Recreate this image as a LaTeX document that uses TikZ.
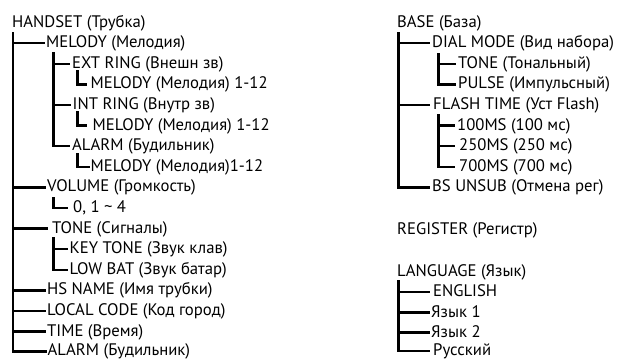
\documentclass[tikz,border=0pt]{standalone}
\usepackage{fontspec}
\setmainfont{PT Sans}
\tikzset{
  lbl/.style={anchor=base west, inner xsep=0pt, inner ysep=0pt, text height=9pt, text depth=0pt, font=\fontsize{16.7}{19}\selectfont},
  br/.style={line width=2.4pt, line join=miter, line cap=butt}
}
\begin{document}
\begin{tikzpicture}[x=1pt,y=-1pt]
\useasboundingbox (0,0) rectangle (619,360);
% ---------- left tree ----------
\node[lbl] (handset) at (12,27) {HANDSET (Трубка)};
\node[lbl] (melody) at (46,47.6) {MELODY (Мелодия)};
\node[lbl] (ext) at (72,68.2) {EXT RING (Внешн зв)};
\node[lbl] (extm) at (90.5,88.8) {MELODY (Мелодия) 1-12};
\node[lbl] (int) at (72.5,109.4) {INT RING (Внутр зв)};
\node[lbl] (intm) at (92.5,130) {MELODY (Мелодия) 1-12};
\node[lbl] (alarmA) at (72,150.6) {ALARM (Будильник)};
\node[lbl] (alarmm) at (90.5,171.2) {MELODY (Мелодия)1-12};
\node[lbl] (volume) at (47,191.8) {VOLUME (Громкость)};
\node[lbl] (vol) at (73,212.4) {0, 1 \textasciitilde{} 4};
\node[lbl] (tone) at (52,233) {TONE (Сигналы)};
\node[lbl] (key) at (69.5,253.6) {KEY TONE (Звук клав)};
\node[lbl] (low) at (69.5,274.2) {LOW BAT (Звук батар)};
\node[lbl] (hs) at (47,294.8) {HS NAME (Имя трубки)};
\node[lbl] (local) at (47,315.4) {LOCAL CODE (Код город)};
\node[lbl] (time) at (47,336) {TIME (Время)};
\node[lbl] (alarm) at (47.5,355.8) {ALARM (Будильник)};
\coordinate (v0) at (12.7,32);
\coordinate (v1) at (53.3,52);
\coordinate (v2) at (77.3,70);
\coordinate (v3) at (77.3,111);
\coordinate (v4) at (77.3,153);
\coordinate (v5) at (53.3,197);
\coordinate (v6) at (53.3,237);
\draw[br] (v0) |- ([xshift=-1pt]melody.west);
\draw[br] (v0) |- ([xshift=-1pt]volume.west);
\draw[br] (v0) |- ([xshift=-4pt]tone.west);
\draw[br] (v0) |- ([xshift=-1pt]hs.west);
\draw[br] (v0) |- ([xshift=-1pt]local.west);
\draw[br] (v0) |- ([xshift=-1pt]time.west);
\draw[br] (v0) |- ([xshift=-1pt]alarm.west);
\draw[br] (v1) |- ([xshift=-2pt]ext.west);
\draw[br] (v1) |- ([xshift=-2pt]int.west);
\draw[br] (v1) |- ([xshift=-2pt]alarmA.west);
\draw[br] (v2) |- ([xshift=-3.5pt]extm.west);
\draw[br] (v3) |- ([xshift=-6pt]intm.west);
\draw[br] (v4) |- ([xshift=-0.5pt]alarmm.west);
\draw[br] (v5) |- ([xshift=-5pt]vol.west);
\draw[br] (v6) |- ([xshift=-1.5pt]key.west);
\draw[br] (v6) |- ([xshift=-1.5pt]low.west);
% ---------- right tree ----------
\node[lbl] (base) at (397,27) {BASE (База)};
\node[lbl] (dial) at (432,47.6) {DIAL MODE (Вид набора)};
\node[lbl] (tonal) at (458,68.2) {TONE (Тональный)};
\node[lbl] (pulse) at (458,88.8) {PULSE (Импульсный)};
\node[lbl] (flash) at (433,109.4) {FLASH TIME (Уст Flash)};
\node[lbl] (ms1) at (457,130) {100MS (100 мс)};
\node[lbl] (ms2) at (459,150.6) {250MS (250 мс)};
\node[lbl] (ms3) at (459,171.2) {700MS (700 мс)};
\node[lbl] (unsub) at (432,191.8) {BS UNSUB (Отмена рег)};
\node[lbl] (reg) at (397,234) {REGISTER (Регистр)};
\node[lbl] (lang) at (397,276) {LANGUAGE (Язык)};
\node[lbl] (eng) at (433,296.5) {ENGLISH};
\node[lbl] (l1) at (431,317) {Язык 1};
\node[lbl] (l2) at (431,337) {Язык 2};
\node[lbl] (rus) at (433,355.5) {Русский};
\coordinate (r0) at (398.3,32);
\coordinate (r1) at (438.3,53);
\coordinate (r2) at (438.3,114);
\coordinate (r3) at (398.3,280);
\draw[br] (r0) |- ([xshift=-2pt]dial.west);
\draw[br] (r0) |- ([xshift=-3pt]flash.west);
\draw[br] (r0) |- ([xshift=-2pt]unsub.west);
\draw[br] (r1) |- ([xshift=-2pt]tonal.west);
\draw[br] (r1) |- ([xshift=-2pt]pulse.west);
\draw[br] (r2) |- ([xshift=-2pt]ms1.west);
\draw[br] (r2) |- ([xshift=-4pt]ms2.west);
\draw[br] (r2) |- ([xshift=-4pt]ms3.west);
\draw[br] (r3) |- ([xshift=-3pt]eng.west);
\draw[br] (r3) |- ([xshift=-1pt]l1.west);
\draw[br] (r3) |- ([xshift=-1pt]l2.west);
\draw[br] (r3) |- ([xshift=-3pt]rus.west);
\end{tikzpicture}
\end{document}
